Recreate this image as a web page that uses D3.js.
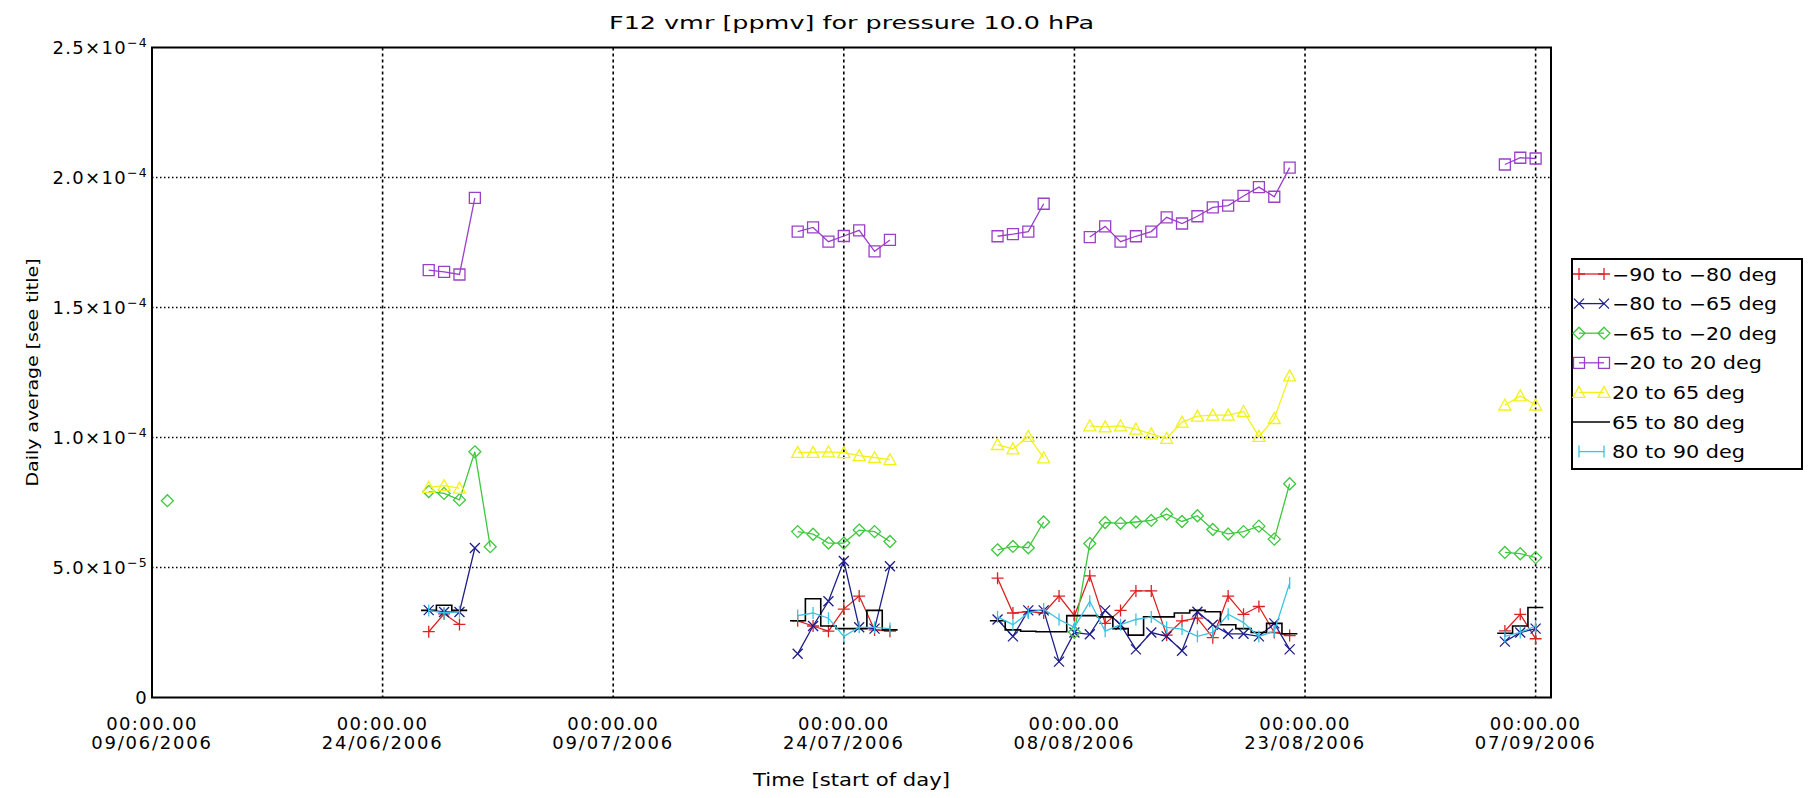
<!DOCTYPE html>
<html><head><meta charset="utf-8">
<script src="https://cdn.jsdelivr.net/npm/d3@7"></script>
<style>
body{margin:0;background:#fff;}
svg text{font-family:"DejaVu Sans",sans-serif;fill:#000;}
</style></head><body>
<svg id="chart" width="1810" height="798"></svg>
<script>
// ---------- data (values in units of 1e-6) ----------
const xDomain = ["2006-06-09", "2006-09-08"];
const dates = [
  "2006-06-10",
  "2006-06-27","2006-06-28","2006-06-29","2006-06-30","2006-07-01",
  "2006-07-21","2006-07-22","2006-07-23","2006-07-24","2006-07-25","2006-07-26","2006-07-27",
  "2006-08-03","2006-08-04","2006-08-05","2006-08-06","2006-08-07","2006-08-08","2006-08-09","2006-08-10",
  "2006-08-11","2006-08-12","2006-08-13","2006-08-14","2006-08-15","2006-08-16","2006-08-17","2006-08-18",
  "2006-08-19","2006-08-20","2006-08-21","2006-08-22",
  "2006-09-05","2006-09-06","2006-09-07"
];
const sRed = [null, 25.3,32.2,28.1,null,null, 29.5,27.5,25.5,34,39,26,25.5,
  45.9,32.5,33,32.5,39,31.5,46.8,28.5,33.5,41,41,24,29.5,30.5,23,39,32,35,25,23.8, 25.6,32,22.6];
const sBlue = [null, 33.6,32.9,32.9,57.5,null, 16.8,27.5,37,52.5,27,26.5,50.5,
  30,23.5,33.5,33.5,13.8,25,24.3,33.5,28,18.5,25,23.5,18,33,28,24.5,24.5,23.5,28.5,18.5, 21.5,25,26.5];
const sGreen = [75.7, 79.2,78.5,76.0,94.5,58.0, 63.8,62.8,59.4,59.4,64.4,63.8,60.0,
  56.8,58.1,57.6,67.5,null,25.2,59.2,67.3,67.0,67.5,68.1,70.5,67.7,69.9,64.6,62.9,63.8,65.9,60.9,82.2, 55.8,55.3,53.8];
const sPurple = [null, 164.4,163.7,162.7,192.2,null, 179.2,180.8,175.3,177.5,179.7,171.6,176.0,
  177.4,178.2,179.2,189.9,null,null,177.1,181.2,175.3,177.4,179.2,184.7,182.3,185.1,188.5,189.2,192.9,196.3,192.6,203.8, 205.0,207.6,207.3];
const sYellow = [null, 80.8,81.5,80.5,null,null, 94.3,94.3,94.5,94.2,93.0,92.3,91.5,
  97.3,95.6,100.4,92.2,null,null,104.5,104.1,104.5,103.2,101.4,99.7,105.9,108.2,108.6,108.6,110.0,100.4,107.3,123.7, 112.5,116.0,112.5];
const sBlack = [null, 33.5,35.5,33.5,null,null, 29.5,38,27.5,26.5,26.5,33.5,26,
  29.5,26,25.5,25.3,25.3,31.5,31.5,31,26.5,24,31,31,32.5,33.5,33,28,26.5,25,28.5,24.5, 24.7,27.5,34.6];
const sCyan = [null, 33.5,32.5,33,null,null, 31.5,32.5,30.5,23.5,27,27,26.5,
  31,28,32.5,34,30,27,37,25.5,28,30,31,27,26.3,23.5,25,32,28.8,23.5,25.5,44, 23.5,25,27.5];
const seriesNames = ["\u221290 to \u221280 deg","\u221280 to \u221265 deg","\u221265 to \u221220 deg",
  "\u221220 to 20 deg","20 to 65 deg","65 to 80 deg","80 to 90 deg"];
const yTicks = [0, 50, 100, 150, 200, 250];
const yTickMant = ["0","5.0\u00d710","1.0\u00d710","1.5\u00d710","2.0\u00d710","2.5\u00d710"];
const yTickExp = ["","\u22125","\u22124","\u22124","\u22124","\u22124"];
const xTicks = ["2006-06-09","2006-06-24","2006-07-09","2006-07-24","2006-08-08","2006-08-23","2006-09-07"];
const xTickTime = ["00:00.00","00:00.00","00:00.00","00:00.00","00:00.00","00:00.00","00:00.00"];
const xTickDate = ["09/06/2006","24/06/2006","09/07/2006","24/07/2006","08/08/2006","23/08/2006","07/09/2006"];
const titleText = "F12 vmr [ppmv] for pressure 10.0 hPa";
const xTitle = "Time [start of day]";
const yTitle = "Daily average [see title]";

// ---------- styles ----------
const colors = ["#dc2222","#1e1e8c","#3ec83e","#9a40c8","#f2f21a","#000000","#38c4e2"];
const symbols = ["plus","cross","diamond","square","triangle","none","bar"];
const seriesData = [sRed,sBlue,sGreen,sPurple,sYellow,sBlack,sCyan];
const histogram = [false,false,false,false,false,true,false];

const W=1810,H=798;
const pl=152, pr=1551, pt=47.5, pb=697.5;
const parse = d3.utcParse("%Y-%m-%d");
const x = d3.scaleUtc().domain(xDomain.map(parse)).range([pl,pr]);
const y = d3.scaleLinear().domain([0,250]).range([pb,pt]);
const svg = d3.select("#chart");
svg.append("rect").attr("width",W).attr("height",H).attr("fill","#fff");

// grid
const g = svg.append("g");
g.selectAll("line.vg").data(xTicks.slice(1)).join("line")
  .attr("x1",d=>x(parse(d))).attr("x2",d=>x(parse(d))).attr("y1",pt).attr("y2",pb)
  .attr("stroke","#000").attr("stroke-width",1.6).attr("stroke-dasharray","3,3");
g.selectAll("line.hg").data(yTicks.slice(1,-1)).join("line")
  .attr("x1",pl).attr("x2",pr).attr("y1",d=>y(d)).attr("y2",d=>y(d))
  .attr("stroke","#000").attr("stroke-width",1.4).attr("stroke-dasharray","1.5,2.5");

// symbols
function symPath(type, cx, cy){
  const s=5;
  switch(type){
    case "plus": return `M${cx-6},${cy}H${cx+6}M${cx},${cy-6}V${cy+6}`;
    case "cross": return `M${cx-s},${cy-s}L${cx+s},${cy+s}M${cx-s},${cy+s}L${cx+s},${cy-s}`;
    case "diamond": return `M${cx},${cy-6}L${cx+6},${cy}L${cx},${cy+6}L${cx-6},${cy}Z`;
    case "square": return `M${cx-5.5},${cy-5.5}H${cx+5.5}V${cy+5.5}H${cx-5.5}Z`;
    case "triangle": return `M${cx-6},${cy+5}L${cx},${cy-6}L${cx+6},${cy+5}Z`;
    case "bar": return `M${cx},${cy-6}V${cy+6}`;
    default: return "";
  }
}

// series
const dayMs = 86400000;
seriesData.forEach((arr,si)=>{
  const pts = dates.map((d,i)=>({date:parse(d), v:arr[i]})).filter(p=>p.v!==null);
  const segs=[]; let cur=[];
  pts.forEach((p,i)=>{
    if(i>0 && (p.date - pts[i-1].date) > dayMs*1.01){ segs.push(cur); cur=[]; }
    cur.push(p);
  });
  if(cur.length) segs.push(cur);
  const sg = svg.append("g");
  segs.forEach(seg=>{
    if(histogram[si]){
      let dstr="";
      seg.forEach((p,i)=>{
        const xa = x(d3.utcHour.offset(p.date,-12)), xb = x(d3.utcHour.offset(p.date,12));
        if(i===0) dstr += `M${xa},${y(p.v)}`; else dstr += `V${y(p.v)}`;
        dstr += `H${xb}`;
      });
      sg.append("path").attr("d",dstr).attr("fill","none").attr("stroke",colors[si]).attr("stroke-width",1.6);
    } else if(seg.length>1){
      sg.append("path").datum(seg)
        .attr("d",d3.line().x(p=>x(p.date)).y(p=>y(p.v)))
        .attr("fill","none").attr("stroke",colors[si]).attr("stroke-width",1.3);
    }
  });
  if(symbols[si]!=="none"){
    sg.selectAll("path.m").data(pts).join("path")
      .attr("d",p=>symPath(symbols[si], x(p.date), y(p.v)))
      .attr("fill","none").attr("stroke",colors[si]).attr("stroke-width",1.3);
  }
});

// frame
svg.append("rect").attr("x",pl).attr("y",pt).attr("width",pr-pl).attr("height",pb-pt)
  .attr("fill","none").attr("stroke","#000").attr("stroke-width",2);

// y tick labels
const yl = svg.append("g");
yTicks.forEach((t,i)=>{
  const tx = yl.append("text").attr("x",148).attr("y",y(t)+6).attr("text-anchor","end")
    .attr("font-size",18).attr("letter-spacing",1.3);
  tx.append("tspan").text(yTickMant[i]);
  if(yTickExp[i]) tx.append("tspan").attr("dy",-7).attr("font-size",12.5).text(yTickExp[i]);
});
// x tick labels
const xl = svg.append("g");
xTicks.forEach((t,i)=>{
  const cx = x(parse(t));
  xl.append("text").attr("x",cx).attr("y",730).attr("text-anchor","middle")
    .attr("font-size",18).attr("letter-spacing",1.4).text(xTickTime[i]);
  xl.append("text").attr("x",cx).attr("y",749).attr("text-anchor","middle")
    .attr("font-size",18).attr("letter-spacing",1.8).text(xTickDate[i]);
});
// titles
svg.append("text").attr("x",(pl+pr)/2).attr("y",29).attr("text-anchor","middle")
  .attr("font-size",18).attr("textLength",485).attr("lengthAdjust","spacingAndGlyphs").text(titleText);
svg.append("text").attr("x",(pl+pr)/2).attr("y",786).attr("text-anchor","middle")
  .attr("font-size",17).attr("textLength",197).attr("lengthAdjust","spacingAndGlyphs").text(xTitle);
svg.append("text").attr("transform",`translate(38,${(pt+pb)/2}) rotate(-90)`).attr("text-anchor","middle")
  .attr("font-size",16).attr("textLength",228).attr("lengthAdjust","spacingAndGlyphs").text(yTitle);

// legend
const lx0=1572, lx1=1802, ly0=259, ly1=469;
const lg = svg.append("g");
lg.append("rect").attr("x",lx0).attr("y",ly0).attr("width",lx1-lx0).attr("height",ly1-ly0)
  .attr("fill","#fff").attr("stroke","#000").attr("stroke-width",2);
const legW = [165,165,165,150,133,133,133];
seriesNames.forEach((nm,i)=>{
  const cy = 274 + i*29.6;
  const c = colors[i];
  if(symbols[i]==="none"){
    lg.append("line").attr("x1",lx0).attr("x2",1610).attr("y1",cy).attr("y2",cy).attr("stroke",c).attr("stroke-width",1.6);
  } else {
    lg.append("line").attr("x1",1579).attr("x2",1604).attr("y1",cy).attr("y2",cy).attr("stroke",c).attr("stroke-width",1.3);
    [1579,1604].forEach(sx=>lg.append("path").attr("d",symPath(symbols[i],sx,cy)).attr("fill","none").attr("stroke",c).attr("stroke-width",1.3));
  }
  lg.append("text").attr("x",1612).attr("y",cy+6.5).attr("font-size",17)
    .attr("textLength",legW[i]).attr("lengthAdjust","spacingAndGlyphs").text(nm);
});
</script>
</body></html>
